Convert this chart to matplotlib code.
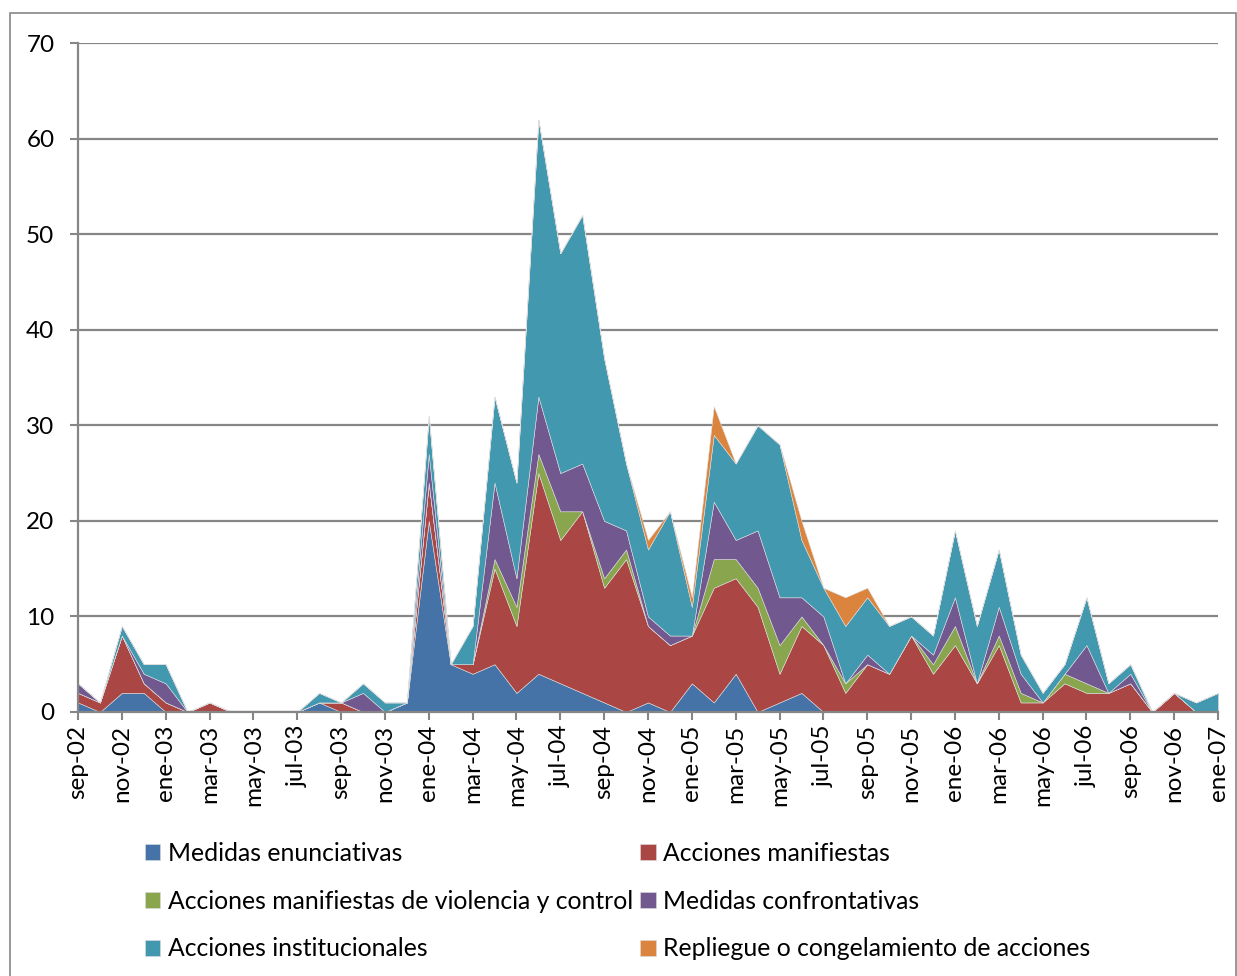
import matplotlib
matplotlib.use("Agg")
import matplotlib.pyplot as plt
from matplotlib.patches import Rectangle

plt.rcParams['font.family'] = ['Lato', 'DejaVu Sans']

meses = ["sep-02", "oct-02", "nov-02", "dic-02", "ene-03", "feb-03", "mar-03", "abr-03",
         "may-03", "jun-03", "jul-03", "ago-03", "sep-03", "oct-03", "nov-03", "dic-03",
         "ene-04", "feb-04", "mar-04", "abr-04", "may-04", "jun-04", "jul-04", "ago-04",
         "sep-04", "oct-04", "nov-04", "dic-04", "ene-05", "feb-05", "mar-05", "abr-05",
         "may-05", "jun-05", "jul-05", "ago-05", "sep-05", "oct-05", "nov-05", "dic-05",
         "ene-06", "feb-06", "mar-06", "abr-06", "may-06", "jun-06", "jul-06", "ago-06",
         "sep-06", "oct-06", "nov-06", "dic-06", "ene-07"]

enunciativas = [1, 0, 2, 2, 0, 0, 0, 0, 0, 0, 0, 1, 0, 0, 0, 1,
                20, 5, 4, 5, 2, 4, 3, 2, 1, 0, 1, 0, 3, 1, 4, 0,
                1, 2, 0, 0, 0, 0, 0, 0, 0, 0, 0, 0, 0, 0, 0, 0,
                0, 0, 0, 0, 0]
manifiestas = [1, 1, 6, 1, 1, 0, 1, 0, 0, 0, 0, 0, 1, 0, 0, 0,
               4, 0, 1, 10, 7, 21, 15, 19, 12, 16, 8, 7, 5, 12, 10, 11,
               3, 7, 7, 2, 5, 4, 8, 4, 7, 3, 7, 1, 1, 3, 2, 2,
               3, 0, 2, 0, 0]
violencia = [0, 0, 0, 0, 0, 0, 0, 0, 0, 0, 0, 0, 0, 0, 0, 0,
             0, 0, 0, 1, 2, 2, 3, 0, 1, 1, 0, 0, 0, 3, 2, 2,
             3, 1, 0, 1, 0, 0, 0, 1, 2, 0, 1, 1, 0, 1, 1, 0,
             0, 0, 0, 0, 0]
confrontativas = [1, 0, 0, 1, 2, 0, 0, 0, 0, 0, 0, 0, 0, 2, 0, 0,
                  3, 0, 0, 8, 3, 6, 4, 5, 6, 2, 1, 1, 0, 6, 2, 6,
                  5, 2, 3, 0, 1, 0, 0, 1, 3, 0, 3, 2, 0, 0, 4, 0,
                  1, 0, 0, 0, 0]
institucionales = [0, 0, 1, 1, 2, 0, 0, 0, 0, 0, 0, 1, 0, 1, 1, 0,
                   4, 0, 4, 9, 10, 29, 23, 26, 17, 7, 7, 13, 3, 7, 8, 11,
                   16, 6, 3, 6, 6, 5, 2, 2, 7, 6, 6, 2, 1, 1, 5, 1,
                   1, 0, 0, 1, 2]
repliegue = [0, 0, 0, 0, 0, 0, 0, 0, 0, 0, 0, 0, 0, 0, 0, 0,
             0, 0, 0, 0, 0, 0, 0, 0, 0, 0, 1, 0, 1, 3, 0, 0,
             0, 2, 0, 3, 1, 0, 0, 0, 0, 0, 0, 0, 0, 0, 0, 0,
             0, 0, 0, 0, 0]

series = ["Medidas enunciativas", "Acciones manifiestas",
          "Acciones manifiestas de violencia y control", "Medidas confrontativas",
          "Acciones institucionales", "Repliegue o congelamiento de acciones"]
colores = ["#4572A7", "#AA4643", "#89A54E", "#71588F", "#4198AF", "#DB843D"]

fig = plt.figure(figsize=(12.37, 9.76), dpi=100)
ax = fig.add_axes([78 / 1237, 1 - 712 / 976, 1140 / 1237, 669 / 976])

x = list(range(len(meses)))
areas = ax.stackplot(x, enunciativas, manifiestas, violencia, confrontativas,
                     institucionales, repliegue, colors=colores, labels=series,
                     linewidth=0.4, edgecolor="#dddddd")

gris = "#868686"
ax.set_xlim(0, len(meses) - 1)
ax.set_ylim(0, 70)
ax.set_yticks(range(0, 71, 10))
ax.yaxis.grid(True, color=gris, linewidth=1.6)
ax.set_axisbelow(True)
ax.set_xticks(x[::2])
ax.set_xticklabels(meses[::2], rotation=90)
ax.tick_params(axis="both", colors=gris, labelcolor="black", labelsize=17.5, length=6, width=1.5)
ax.tick_params(axis="y", pad=11)
ax.tick_params(axis="x", pad=3)
for lado in ["top", "right"]:
    ax.spines[lado].set_visible(False)
for lado in ["left", "bottom"]:
    ax.spines[lado].set_color(gris)
    ax.spines[lado].set_linewidth(1.6)

# legend: two columns, filled column by column
orden = [0, 2, 4, 1, 3, 5]
fig.legend([areas[i] for i in orden], [series[i] for i in orden], ncol=2,
           loc="upper left", bbox_to_anchor=(145 / 1237, 1 - 842 / 976),
           frameon=False, fontsize=17.8, handlelength=0.62, handleheight=0.62,
           handletextpad=0.3, columnspacing=0.3, labelspacing=1.0,
           borderpad=0, borderaxespad=0)

fig.patches.append(Rectangle((10 / 1237, -0.01), 1226 / 1237, 1 - 13 / 976 + 0.01,
                             transform=fig.transFigure, fill=False,
                             edgecolor=gris, linewidth=1.2))

fig.savefig("out.png", dpi=100)
